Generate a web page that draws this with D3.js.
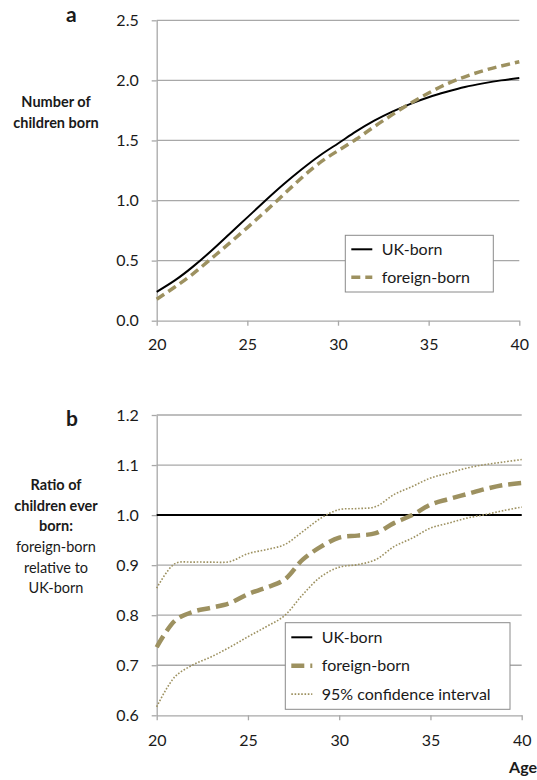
<!DOCTYPE html>
<html>
<head>
<meta charset="utf-8">
<script src="https://cdn.jsdelivr.net/npm/d3@7"></script>
<style>
    body { margin: 0; background: #fff; }
    text { font-family: Lato, "Open Sans", sans-serif; fill: #1a1a1a; }
</style>
</head>
<body>
<div id="chart"></div>
<script>
// cohort fertility: UK-born vs foreign-born women

const ages = [20, 21, 22, 23, 24, 25, 26, 27, 28, 29, 30, 31, 32, 33, 34, 35, 36, 37, 38, 39, 40];
const ukBorn = [0.24, 0.335, 0.45, 0.58, 0.72, 0.86, 1.0, 1.135, 1.26, 1.375, 1.475, 1.575, 1.665, 1.74, 1.805, 1.86, 1.905, 1.945, 1.975, 2.0, 2.02];
const foreignBorn = [0.178, 0.28, 0.39, 0.515, 0.643, 0.775, 0.91, 1.05, 1.19, 1.315, 1.415, 1.51, 1.615, 1.715, 1.81, 1.895, 1.97, 2.03, 2.08, 2.12, 2.155];

const ratioUK = [1, 1, 1, 1, 1, 1, 1, 1, 1, 1, 1, 1, 1, 1, 1, 1, 1, 1, 1, 1, 1];
const ratioForeign = [0.736, 0.789, 0.807, 0.815, 0.824, 0.842, 0.855, 0.871, 0.911, 0.937, 0.955, 0.959, 0.964, 0.984, 1.0, 1.021, 1.032, 1.042, 1.052, 1.06, 1.064];
const ciUpper = [0.854, 0.903, 0.906, 0.906, 0.907, 0.923, 0.931, 0.941, 0.967, 0.994, 1.011, 1.013, 1.017, 1.041, 1.057, 1.074, 1.084, 1.094, 1.101, 1.106, 1.111];
const ciLower = [0.617, 0.677, 0.701, 0.717, 0.736, 0.757, 0.777, 0.799, 0.841, 0.877, 0.896, 0.901, 0.911, 0.937, 0.954, 0.974, 0.984, 0.994, 1.001, 1.009, 1.016];

const ageTicks = [20, 25, 30, 35, 40];
const countTicks = [0, 0.5, 1.0, 1.5, 2.0, 2.5];
const ratioTicks = [0.6, 0.7, 0.8, 0.9, 1.0, 1.1, 1.2];

window.onload = init;

function init()
{
    const width = 537, height = 780;
    const gridColor = "#a8a8a8", olive = "#9d9160";

    const svg = d3.select("#chart")
        .append("svg")
        .attr("width", width)
        .attr("height", height);

    const styles = {
        uk: { stroke: "#000", width: 2, dash: null },
        fbA: { stroke: olive, width: 3.5, dash: "9,5" },
        fbB: { stroke: olive, width: 4.5, dash: "13,6" },
        ci: { stroke: olive, width: 1.6, dash: "1.6,1.7" }
    };

    function drawPanel(cfg) {
        const x = d3.scaleLinear().domain([20, 40]).range(cfg.xRange);
        const y = d3.scaleLinear().domain(cfg.yDomain).range(cfg.yRange);
        const g = svg.append("g");

        g.selectAll(".grid")                                    // horizontal gridlines
            .data(cfg.yTicks.slice(1))
            .enter().append("line")
            .attr("x1", cfg.xRange[0]).attr("x2", cfg.xRange[1])
            .attr("y1", d => y(d)).attr("y2", d => y(d))
            .attr("stroke", gridColor).attr("stroke-width", 1.3);

        const yAxis = g.append("g")
            .attr("transform", `translate(${cfg.xRange[0]},0)`)
            .call(d3.axisLeft(y).tickValues(cfg.yTicks).tickSize(5).tickSizeOuter(0).tickPadding(13).tickFormat(d3.format(".1f")));
        const xAxis = g.append("g")
            .attr("transform", `translate(0,${cfg.yRange[0]})`)
            .call(d3.axisBottom(x).tickValues(ageTicks).tickSize(5).tickSizeOuter(0).tickPadding(cfg.xPad).tickFormat(d3.format("d")));

        [yAxis, xAxis].forEach(a => {
            a.select(".domain").attr("stroke", gridColor).attr("stroke-width", 1.3);
            a.selectAll(".tick line").attr("stroke", gridColor).attr("stroke-width", 1.3);
            a.selectAll("text").style("font-size", "16px").attr("fill", "#1a1a1a");
        });

        const line = d3.line()
            .x((d, i) => x(ages[i]))
            .y(d => y(d))
            .curve(cfg.curve);

        cfg.series.forEach(s => {
            g.append("path")
                .datum(s.values)
                .attr("fill", "none")
                .attr("stroke", s.style.stroke)
                .attr("stroke-width", s.style.width)
                .attr("stroke-dasharray", s.style.dash)
                .attr("d", line);
        });

        const lg = cfg.legend;                                  // legend box
        const legend = g.append("g");
        legend.append("rect")
            .attr("x", lg.x).attr("y", lg.y)
            .attr("width", lg.w).attr("height", lg.h)
            .attr("fill", "#fff").attr("stroke", "#8a8a8a").attr("stroke-width", 1);

        cfg.series.filter(s => s.name).forEach((s, i) => {
            const cy = lg.y + lg.first + i * lg.step;
            legend.append("line")
                .attr("x1", lg.x + 6).attr("x2", lg.x + 27)
                .attr("y1", cy).attr("y2", cy)
                .attr("stroke", s.style.stroke)
                .attr("stroke-width", s.style.width)
                .attr("stroke-dasharray", s.style.dash);
            legend.append("text")
                .attr("x", lg.x + 36.5).attr("y", cy)
                .attr("dy", "0.36em")
                .style("font-size", "16px")
                .text(s.name);
        });

        g.append("text")                                        // panel letter
            .attr("x", 66).attr("y", cfg.letterY)
            .style("font-size", "21px").style("font-weight", "bold")
            .text(cfg.letter);

        cfg.title.forEach(t => {
            g.append("text")
                .attr("x", 56).attr("y", t.y)
                .attr("text-anchor", "middle")
                .style("font-size", "14.5px")
                .style("font-weight", t.bold ? "bold" : "normal")
                .text(t.text);
        });
    }

    drawPanel({
        xRange: [156.7, 519.3],
        yDomain: [0, 2.5],
        yRange: [320.7, 20.3],
        yTicks: countTicks,
        xPad: 13,
        curve: d3.curveNatural,
        letter: "a",
        letterY: 22,
        title: [
            { text: "Number of", y: 107, bold: true },
            { text: "children born", y: 127.5, bold: true }
        ],
        series: [
            { name: "UK-born", values: ukBorn, style: styles.uk },
            { name: "foreign-born", values: foreignBorn, style: styles.fbA }
        ],
        legend: { x: 345.3, y: 235.3, w: 148, h: 56.7, first: 14, step: 28 }
    });

    drawPanel({
        xRange: [156.7, 521.7],
        yDomain: [0.6, 1.2],
        yRange: [715.3, 415],
        yTicks: ratioTicks,
        xPad: 14,
        curve: d3.curveCatmullRom.alpha(0.5),
        letter: "b",
        letterY: 426,
        title: [
            { text: "Ratio of", y: 490, bold: true },
            { text: "children ever", y: 510.7, bold: true },
            { text: "born:", y: 530.7, bold: true },
            { text: "foreign-born", y: 551.5, bold: false },
            { text: "relative to", y: 572.5, bold: false },
            { text: "UK-born", y: 593.3, bold: false }
        ],
        series: [
            { name: "UK-born", values: ratioUK, style: styles.uk },
            { name: "foreign-born", values: ratioForeign, style: styles.fbB },
            { name: "95% confidence interval", values: ciUpper, style: styles.ci },
            { name: null, values: ciLower, style: styles.ci }         // lower bound, no legend entry
        ],
        legend: { x: 285.3, y: 622.7, w: 224.7, h: 86.6, first: 14.6, step: 28.4 }
    });

    svg.append("text")
        .attr("x", 537).attr("y", 773)
        .attr("text-anchor", "end")
        .style("font-size", "16px").style("font-weight", "bold")
        .text("Age");
}
</script>
</body>
</html>
